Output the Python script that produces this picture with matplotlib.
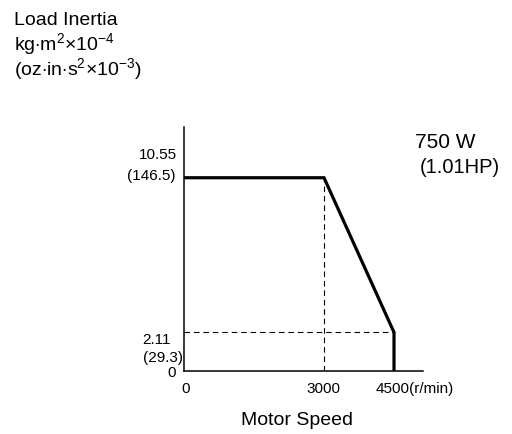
import matplotlib.pyplot as plt

plt.rcParams['font.family'] = ['Liberation Sans', 'DejaVu Sans']
plt.rcParams['mathtext.fontset'] = 'custom'
plt.rcParams['mathtext.rm'] = 'Liberation Sans'
plt.rcParams['mathtext.it'] = 'Liberation Sans'

# allowable load inertia envelope, 750 W motor
speed = [0, 3000, 4500, 4500]
inertia = [10.55, 10.55, 2.11, 0]

rated_speed = 3000
max_speed = 4500
inertia_at_max = 2.11

W, H = 512, 435
fig = plt.figure(figsize=(W / 100, H / 100), dpi=100)
ax = fig.add_axes([184 / W, 1 - 372 / H, (423 - 184) / W, (372 - 128) / H])


def px(x, y, s, **kw):
    # place text by pixel position measured from top-left
    fig.text(x / W, 1 - y / H, s, **kw)


ax.plot(speed, inertia, color='black', lw=2.3, solid_joinstyle='miter')
ax.plot([rated_speed, rated_speed], [0, inertia[0]], color='black', lw=0.8, ls=(0, (5, 3.5)))
ax.plot([0, max_speed], [inertia_at_max, inertia_at_max], color='black', lw=0.8, ls=(0, (5, 3.5)))

ax.set_xlim(0, 5121)
ax.set_ylim(0, 13.32)
for s in ['top', 'right']:
    ax.spines[s].set_visible(False)
for s in ['left', 'bottom']:
    ax.spines[s].set_linewidth(1.1)
ax.set_xticks([])
ax.set_yticks([])

tk = dict(fontsize=11, va='baseline')
px(177, 159, '10.55', ha='right', **tk)
px(176, 180, '(146.5)', ha='right', **tk)
px(171, 344, '2.11', ha='right', **tk)
px(183, 362, '(29.3)', ha='right', **tk)
px(176, 377, '0', ha='right', **tk)
px(185.5, 393, '0', ha='center', **tk)
px(323, 393, '3000', ha='center', **tk)
px(376, 393, '4500(r/min)', ha='left', **tk)

tt = dict(fontsize=14, ha='left', va='baseline')
px(14, 25, 'Load Inertia', **tt)
px(14, 50, r'kg$\cdot$m$^2$$\times$10$^{-4}$', **tt)
px(14, 75, r'(oz$\cdot$in$\cdot$s$^2$$\times$10$^{-3}$)', **tt)

px(415, 148, '750 W', fontsize=15, ha='left', va='baseline')
px(420, 173, '(1.01HP)', fontsize=14.5, ha='left', va='baseline')
px(297, 425, 'Motor Speed', fontsize=14, ha='center', va='baseline')

fig.savefig('out.png', dpi=100)
